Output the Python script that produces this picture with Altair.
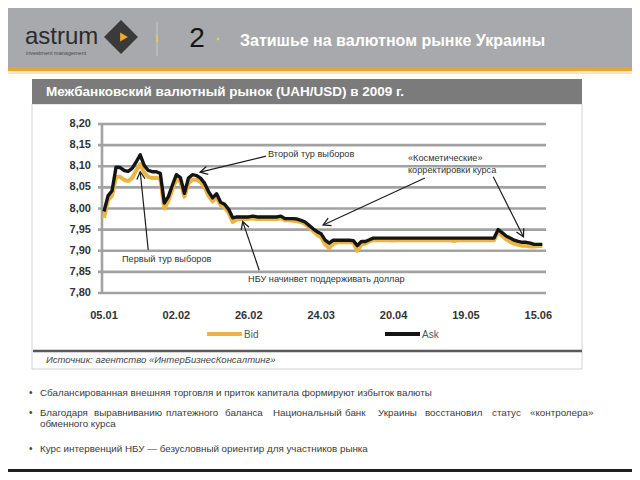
import math
import altair as alt
import pandas as pd

# ---------------- data ----------------
date_labels = ["05.01", "02.02", "26.02", "24.03", "20.04", "19.05", "15.06"]
date_index = [0, 18, 36, 54, 72, 90, 108]
y_ticks = [7.80, 7.85, 7.90, 7.95, 8.00, 8.05, 8.10, 8.15, 8.20]
y_tick_labels = ["7,80", "7,85", "7,90", "7,95", "8,00", "8,05", "8,10", "8,15", "8,20"]

ask = [7.993, 8.030, 8.042, 8.098, 8.097, 8.090, 8.088, 8.095, 8.110, 8.127,
       8.102, 8.090, 8.087, 8.087, 8.083, 8.013, 8.028, 8.055, 8.080, 8.073,
       8.036, 8.072, 8.080, 8.078, 8.072, 8.060, 8.040, 8.025, 8.035, 8.015,
       8.010, 7.998, 7.978, 7.980, 7.980, 7.980, 7.980, 7.982, 7.980, 7.980,
       7.980, 7.980, 7.980, 7.980, 7.982, 7.976, 7.976, 7.976, 7.975, 7.972,
       7.968, 7.960, 7.952, 7.945, 7.940, 7.925, 7.918, 7.925, 7.925, 7.925,
       7.925, 7.925, 7.924, 7.912, 7.922, 7.922, 7.926, 7.930, 7.930, 7.930,
       7.930, 7.930, 7.930, 7.930, 7.930, 7.930, 7.930, 7.930, 7.930, 7.930,
       7.930, 7.930, 7.930, 7.930, 7.930, 7.930, 7.930, 7.930, 7.930, 7.930,
       7.930, 7.930, 7.930, 7.930, 7.930, 7.930, 7.930, 7.930, 7.950, 7.943,
       7.935, 7.930, 7.925, 7.922, 7.920, 7.920, 7.918, 7.915, 7.915, 7.915]

bid = [7.978, 8.020, 8.030, 8.075, 8.075, 8.068, 8.065, 8.072, 8.090, 8.105,
       8.085, 8.075, 8.072, 8.073, 8.070, 8.000, 8.018, 8.045, 8.070, 8.063,
       8.028, 8.060, 8.068, 8.068, 8.063, 8.050, 8.030, 8.017, 8.027, 8.008,
       8.003, 7.990, 7.968, 7.974, 7.975, 7.975, 7.976, 7.977, 7.975, 7.975,
       7.975, 7.975, 7.976, 7.975, 7.977, 7.972, 7.972, 7.971, 7.970, 7.968,
       7.963, 7.955, 7.947, 7.938, 7.932, 7.915, 7.906, 7.916, 7.920, 7.920,
       7.920, 7.920, 7.919, 7.900, 7.915, 7.917, 7.922, 7.925, 7.925, 7.925,
       7.925, 7.925, 7.924, 7.925, 7.925, 7.925, 7.925, 7.925, 7.925, 7.925,
       7.925, 7.925, 7.925, 7.925, 7.925, 7.925, 7.925, 7.923, 7.925, 7.925,
       7.925, 7.925, 7.925, 7.925, 7.925, 7.925, 7.925, 7.925, 7.945, 7.935,
       7.927, 7.921, 7.917, 7.914, 7.912, 7.912, 7.910, 7.910, 7.911, 7.911]

series_names = ["Bid", "Ask"]

# annotation arrows: (tail index, tail value, head index, head value)
arrow_tail_idx = [40.3, 11.0, 38.6, 79.8, 96.8]
arrow_tail_val = [8.124, 7.902, 7.854, 8.072, 8.075]
arrow_head_idx = [23.9, 9.0, 34.5, 54.5, 104.3]
arrow_head_val = [8.086, 8.087, 7.969, 7.961, 7.933]

bullets = [
    "Сбалансированная внешняя торговля и приток капитала формируют избыток валюты",
    "Благодаря выравниванию платежного баланса Национальный банк Украины восстановил статус «контролера»",
    "обменного курса",
    "Курс интервенций НБУ — безусловный ориентир для участников рынка",
]

# ---------------- layout / styles ----------------
W, H = 624, 464
X0, X1, XD1 = 96.0, 530.3, 108
Y0, Y1 = 285.0, 116.0
XS = alt.Scale(domain=[0, XD1], range=[X0, X1], nice=False, zero=False)
YS = alt.Scale(domain=[7.80, 8.20], range=[Y0, Y1], nice=False, zero=False)

BASE = "Liberation Sans"
one = pd.DataFrame({"k": [0]})


def rect(x, y, x2, y2, **kw):
    return alt.Chart(one).mark_rect(**kw).encode(
        x=alt.value(x), y=alt.value(y), x2=alt.value(x2), y2=alt.value(y2))


def rule(x, y, x2, y2, **kw):
    return alt.Chart(one).mark_rule(**kw).encode(
        x=alt.value(x), y=alt.value(y), x2=alt.value(x2), y2=alt.value(y2))


def txt(s, x, y, **kw):
    kw.setdefault("font", BASE)
    kw.setdefault("baseline", "middle")
    kw.setdefault("align", "left")
    return alt.Chart(one).mark_text(text=s, **kw).encode(x=alt.value(x), y=alt.value(y))


layers = []

# header
layers.append(rect(0, 0, W, 60, color="#a7a9ac"))
layers.append(rect(0, 60, W, 63, color="#e8a63a"))
layers.append(rect(0, 63, W, 66, color="#f8e7bd"))
layers.append(txt("astrum", 17, 36, fontSize=24, color="#2b2b2b", baseline="alphabetic"))
layers.append(txt("investment management", 18, 43, fontSize=5.5, color="#4a4a4a", baseline="top"))
layers.append(alt.Chart(one).mark_point(shape="diamond", size=1150, filled=True, color="#3a3a3a",
                                        opacity=1).encode(x=alt.value(113), y=alt.value(29)))
layers.append(alt.Chart(one).mark_point(shape="triangle-right", size=80, filled=True, color="#f2aa2e",
                                        opacity=1).encode(x=alt.value(116), y=alt.value(29)))
layers.append(rule(149, 14, 149, 48, color="#c8c9cb", strokeWidth=1))
layers.append(rule(149, 27, 149, 34, color="#e9c65a", strokeWidth=2))
layers.append(txt("2", 189, 31, fontSize=28, color="#151515", align="center"))
layers.append(alt.Chart(one).mark_point(shape="circle", size=8, filled=True, color="#e6c95a",
                                        opacity=1).encode(x=alt.value(210), y=alt.value(31)))
layers.append(txt("Затишье на валютном рынке Украины", 232, 33, fontSize=16, fontWeight="bold",
                  color="white"))

# chart box
layers.append(rect(24, 96, 574, 361, fill="white", stroke="#d2d2d2", strokeWidth=1))
layers.append(rect(24, 71, 574, 96, color="#7b7b7b"))
layers.append(txt("Межбанковский  валютный  рынок  (UAH/USD)  в 2009 г.", 38, 84, fontSize=13.5,
                  fontWeight="bold", color="white"))
layers.append(rule(25, 343, 574, 343, color="#5a5a5a", strokeWidth=2.5))
layers.append(txt("Источник: агентство «ИнтерБизнесКонсалтинг»", 38, 352, fontSize=9.5,
                  fontStyle="italic", color="#444444"))

# grid, y axis line, tick labels
grid_df = pd.DataFrame({"v": y_ticks, "lab": y_tick_labels})
layers.append(alt.Chart(grid_df).mark_rule(color="#a2a2a2", strokeWidth=2.6).encode(
    y=alt.Y("v:Q", scale=YS, axis=None), x=alt.value(90), x2=alt.value(538)))
layers.append(rule(94, 116, 94, 285, color="#a2a2a2", strokeWidth=2.6))
layers.append(alt.Chart(grid_df).mark_text(align="right", baseline="middle", font=BASE, fontSize=11,
                                           fontWeight="bold", color="#333333").encode(
    y=alt.Y("v:Q", scale=YS, axis=None), x=alt.value(83), text="lab:N"))
xlab_df = pd.DataFrame({"i": date_index, "lab": date_labels})
layers.append(alt.Chart(xlab_df).mark_text(align="center", baseline="middle", font=BASE, fontSize=11,
                                           fontWeight="bold", color="#333333").encode(
    x=alt.X("i:Q", scale=XS, axis=None), y=alt.value(308), text="lab:N"))

# series
line_df = pd.DataFrame({"i": list(range(len(ask))), "Bid": bid, "Ask": ask})
layers.append(alt.Chart(line_df).mark_line(color="#ebb543", strokeWidth=4, strokeJoin="round").encode(
    x=alt.X("i:Q", scale=XS, axis=None), y=alt.Y("Bid:Q", scale=YS, axis=None)))
layers.append(alt.Chart(line_df).mark_line(color="#151515", strokeWidth=3.4, strokeJoin="round").encode(
    x=alt.X("i:Q", scale=XS, axis=None), y=alt.Y("Ask:Q", scale=YS, axis=None)))

# legend
layers.append(rule(199, 326, 234, 326, color="#ebb543", strokeWidth=4))
layers.append(txt(series_names[0], 236, 327, fontSize=10, color="#555555"))
layers.append(rule(377, 326, 412, 326, color="#151515", strokeWidth=4))
layers.append(txt(series_names[1], 414, 327, fontSize=10, color="#555555"))

# annotations
def px(i):
    return X0 + i * (X1 - X0) / XD1


def py(v):
    return Y0 - (v - 7.80) * (Y0 - Y1) / 0.40


angles = []
for ti, tv, hi, hv in zip(arrow_tail_idx, arrow_tail_val, arrow_head_idx, arrow_head_val):
    a = math.degrees(math.atan2(py(hv) - py(tv), px(hi) - px(ti))) % 360
    angles.append(a)
arr_df = pd.DataFrame({"ti": arrow_tail_idx, "tv": arrow_tail_val, "hi": arrow_head_idx,
                       "hv": arrow_head_val, "ang": angles})
layers.append(alt.Chart(arr_df).mark_rule(color="#1e1e1e", strokeWidth=1.2).encode(
    x=alt.X("ti:Q", scale=XS, axis=None), y=alt.Y("tv:Q", scale=YS, axis=None),
    x2="hi:Q", y2="hv:Q"))
layers.append(alt.Chart(arr_df).mark_point(shape="M-1,-0.55L0,0L-1,0.55", filled=False, size=220,
                                           strokeWidth=1.3, color="#1e1e1e", opacity=1).encode(
    x=alt.X("hi:Q", scale=XS, axis=None), y=alt.Y("hv:Q", scale=YS, axis=None),
    angle=alt.Angle("ang:Q", scale=None)))

ann_style = dict(fontSize=9.2, color="#333333")
layers.append(txt("Второй  тур выборов", 260, 146, **ann_style))
layers.append(txt("Первый тур выборов", 114, 251, **ann_style))
layers.append(txt("НБУ начинвет  поддерживать  доллар", 240, 271, **ann_style))
layers.append(txt("«Косметические»", 400, 150, **ann_style))
layers.append(txt("корректировки  курса", 400, 162, **ann_style))

# bullets
bullet_y = [385, 405, 416, 441]
bul_style = dict(fontSize=9.8, color="#3a3a3a")
for k, yv in enumerate(bullet_y):
    if k != 2:
        layers.append(txt("•", 21, yv, fontSize=10, color="#444444"))
layers.append(txt(bullets[0], 32, bullet_y[0], **bul_style))
words = bullets[1].split(" ")
word_x = [32, 86, 158, 217, 265, 337, 370, 417, 484, 522]
for w, xv in zip(words, word_x):
    layers.append(txt(w, xv, bullet_y[1], **bul_style))
layers.append(txt(bullets[2], 32, bullet_y[2], **bul_style))
layers.append(txt(bullets[3], 32, bullet_y[3], **bul_style))

# bottom bar
layers.append(rect(0, 461, W, H, color="#202020"))

chart = alt.layer(*layers).properties(
    width=W, height=H, padding=0,
    autosize=alt.AutoSizeParams(type="none"), background="white",
).configure_view(stroke=None)

chart.save("out.html", embed_options={"renderer": "svg", "actions": False})
